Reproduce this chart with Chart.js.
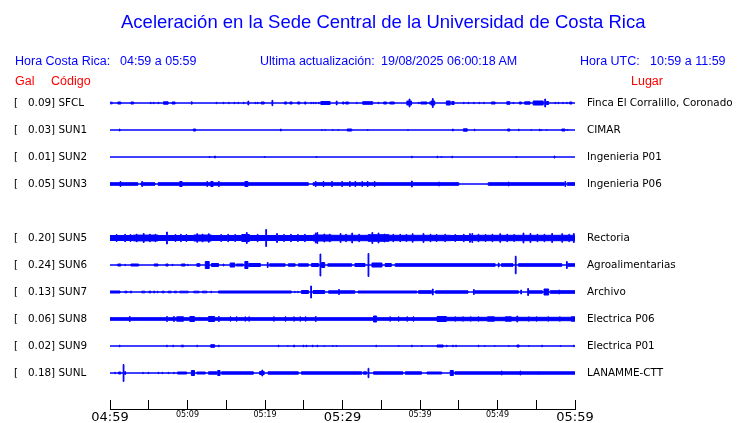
<!DOCTYPE html>
<html><head><meta charset="utf-8">
<script src="https://cdn.jsdelivr.net/npm/chart.js@4.4.0/dist/chart.umd.min.js"></script>
<style>
html,body{margin:0;padding:0;background:#fff;}
#wrap{position:relative;width:740px;height:423px;overflow:hidden;background:#fff;}
.t{position:absolute;white-space:pre;font-family:"Liberation Sans",Arial,sans-serif;line-height:1;}
.b{color:#0000ff;font-size:12.5px;top:55px;}
.r{color:#ff0000;font-size:12.5px;top:75px;}
canvas{position:absolute;left:0;}
</style></head><body>
<div id="wrap">
<canvas id="main" width="740" height="423" style="top:0"></canvas>
<canvas id="axis" width="740" height="23" style="top:400px"></canvas>
<div class="t" style="left:121px;top:13px;font-size:18.5px;color:#0000ff">Aceleración en la Sede Central de la Universidad de Costa Rica</div>
<div class="t b" style="left:15px">Hora Costa Rica:</div>
<div class="t b" style="left:120px">04:59 a 05:59</div>
<div class="t b" style="left:260px">Ultima actualización:</div>
<div class="t b" style="left:381px">19/08/2025 06:00:18 AM</div>
<div class="t b" style="left:580px">Hora UTC:</div>
<div class="t b" style="left:650px">10:59 a 11:59</div>
<div class="t r" style="left:15px">Gal</div>
<div class="t r" style="left:51px">Código</div>
<div class="t r" style="left:631px">Lugar</div>
</div>
<script>
// ---- data (minutes after 04:59; [start, end, halfAmplitude] blocks or [time, halfAmplitude] spikes) ----
const codes  = ['SFCL','SUN1','SUN2','SUN3','SUN4','SUN5','SUN6','SUN7','SUN8','SUN9','SUNL'];
const gal    = [0.09, 0.03, 0.01, 0.05, null, 0.20, 0.24, 0.13, 0.06, 0.02, 0.18];
const places = ['Finca El Corralillo, Coronado','CIMAR','Ingenieria P01','Ingenieria P06','',
                'Rectoria','Agroalimentarias','Archivo','Electrica P06','Electrica P01','LANAMME-CTT'];
const timeTicks  = ['04:59','','05:09','','05:19','','05:29','','05:39','','05:49','','05:59'];
const majorTicks = ['04:59','05:29','05:59'];

const sfcl = [[0,0.3,1.3],[1,1.4,1.5],[2.7,3.05,1.5],[5.2,1.2],[5.6,1.2],[6.2,1.2],[6.9,7.5,1.7],[8,8.4,1.5],[10.5,1.7],[13.7,1.2],[14.6,1.2],[15.3,1.2],[16,1.2],[16.5,1.2],[17.2,1.2],[17.8,2.5],[18.7,1.2],[19,1.2],[19.5,19.9,1.5],[20.9,3.2],[22.5,22.8,1.5],[23.2,23.5,1.5],[24.2,24.5,1.5],[25.1,25.3,1.5],[25.9,1.2],[26.2,1.2],[26.5,1.2],[26.9,1.2],[27.2,28.4,2],[29.2,2.5],[30,30.2,1.5],[30.4,30.8,1.5],[31.8,1.2],[32.6,33.9,1.8],[34.6,1.2],[35.3,35.7,1.5],[36.1,36.7,1.5],[38.3,38.9,2.5],[38.6,4.5],[39.8,1.2],[40.1,40.9,1.5],[41.2,1.5],[41.4,41.9,2.5],[41.6,5],[43.4,43.9,2.5],[44.1,44.4,2],[45.6,1.2],[46.2,1.2],[46.9,1.2],[47.6,1.2],[48.2,1.2],[49.2,49.7,1.5],[51.2,51.6,1.8],[52,1.2],[52.8,53.1,1.5],[53.5,54.2,1.7],[54.6,55.9,2.5],[56.1,4.5],[56.3,56.6,2],[57.4,1.2],[57.8,1.2],[58.4,1.2],[58.9,1.2],[59.3,59.6,1.5]];
const sun1 = [[1.2,1.5],[10.75,11.05,1.5],[22,1.5],[27.3,1],[27.7,1],[28.7,1],[29.4,1],[30.6,31.2,1.5],[33.2,1],[38.4,1],[44.2,1.5],[45.6,46.1,1.7],[47,1.3],[51.3,51.6,1.5],[52.7,1.3],[54.3,1],[55.4,1.3],[55.6,1],[56.3,1],[58.3,58.7,1.5],[59,1]];
const sun2 = [[12.8,1],[13.5,1.5],[19.9,1],[26.6,1],[38.9,1.3],[42.2,1.3],[42.7,1],[44.1,1.3],[52.4,1],[57.3,1.5]];
const sun3 = [[0,3.6,1.8],[1.3,3],[4,5.8,1.8],[4.1,3],[6.2,25.6,1.8],[9,9.3,3],[12.5,3],[13,13.3,3],[14,3],[17.4,17.8,3],[26.2,45,1.8],[26.5,3],[27.5,3],[28.6,3],[29.9,3],[30.9,3],[31.6,3],[32.5,3],[33.2,3],[34.1,3],[38.9,3.5],[42.4,2.5],[48.8,58.6,1.8],[51.4,2.5],[58.7,3],[59,60,1.8]];
const sun4 = null;
const sun5 = [[0,3,3],[3,6.2,3.4],[6.2,10.8,3],[10.8,13.1,3.5],[13.1,17,3],[17,18,4],[18,26.2,3],[26.2,28.6,3.5],[28.6,33.3,3.2],[33.3,36,3.8],[36,44,3.2],[44,47,3],[47,60,3.2],
  [0.8,4],[1.9,4.2],[2.6,4],[3.4,4.3],[4.3,5],[5.1,4.3],[5.8,4.2],[7.3,6.5],[8.4,4],[9.1,4.2],[9.8,4],[11.2,4.8],[11.9,4.3],[12.7,4.8],[14.3,4],[15.2,4.2],[16.1,4],[17.6,6],[19,4.2],[20.1,9],[21.5,5],[22.4,4],[23.3,4.2],[24.2,4],[25.1,4.2],[26.5,5.5],[26.7,6],[27.6,4.5],[28.3,4.3],[29.7,5],[30.4,4.2],[31.2,5.5],[32.1,4.2],[33.8,6],[34.6,5.5],[35.4,4.5],[36.5,4.2],[37.4,4.2],[38.2,4],[39,4.8],[40.4,5],[41.3,4.2],[42.1,4],[43.2,4.2],[44.5,4],[45.6,4.2],[46.4,4.8],[46.7,5],[47.5,4.2],[48.4,4],[49.3,4.2],[50.3,4.8],[51.2,4.2],[52.1,4],[53.3,5.5],[54.2,5],[55.1,4.2],[56,4.2],[57,5],[58.3,4.8],[59.2,4.2],[59.8,5]];
const sun6 = [[1,1.4,1.5],[1.9,1.2],[2.7,3.7,1.5],[5.7,6.2,1.5],[7.2,7.5,1.5],[8,1.2],[9.2,9.7,1.5],[10,1.2],[11.2,11.6,1.8],[12.3,12.8,4],[13.1,14,2],[14.6,1.5],[15.5,16.1,2.5],[16.3,17.2,1.5],[17.4,17.8,4],[17.9,19.4,2],[20.3,3],[20.6,22.6,1.7],[23,23.9,1.7],[24.3,25.6,1.7],[26,26.9,2],[27.1,11.5],[27.3,27.7,3],[28.1,31.2,1.7],[31.6,32.9,2],[33.3,12],[33.8,35.1,2.5],[35.5,36.3,2],[36.8,49.7,1.8],[50.1,2.5],[50.5,52,1.8],[52.3,9.3],[52.7,58.3,1.8],[58.9,4],[59.1,60,1.8]];
const sun7 = [[0,1.3,1.5],[1.9,2.2,1.3],[2.6,2.8,1.3],[4.1,4.5,1.3],[5,5.3,1.3],[5.6,5.8,1.3],[6.1,6.2,1.3],[6.7,7,1.3],[7.5,7.9,1.3],[8.3,8.6,1.3],[9,10.1,1.3],[10.8,11.5,1.3],[11.9,12.5,1.3],[13,13.1,1.3],[14,23.4,1.5],[23.8,1.2],[24.2,1.2],[24.7,25.6,2],[25.9,6.5],[26.2,27.7,2],[28.2,31.6,1.7],[29.5,3],[32,39.6,1.5],[39.8,41.5,1.8],[41.6,3.5],[42,46.2,1.7],[46.9,3],[47.1,52.7,1.7],[53,2.5],[53.9,4],[54,55.8,1.7],[56,56.6,3.5],[56.8,60,1.8],[57.9,2.5]];
const sun8 = [[0,60,1.8],[2.5,3],[7.3,3],[8.2,3],[8.6,9.5,2.7],[10.3,10.9,3],[12.7,13.5,3],[14,3],[15.5,2.7],[16.3,2.7],[17.4,2.7],[17.9,2.7],[21.1,2.7],[22.6,2.7],[23.7,2.7],[24.5,2.7],[25.2,2.7],[26.5,3],[34,34.4,3.5],[36.1,2.7],[37.2,2.7],[38.3,2.7],[39.1,2.7],[42.2,43.4,3],[43.4,60,2.2],[44.5,2.7],[45.5,2.7],[46.5,2.7],[47.5,2.7],[48.7,49.6,2.7],[51,51.8,2.7],[52.5,3.5],[54,2.7],[55,2.7],[56.5,2.7],[58,2.7],[59.5,60,2.7]];
const sun9 = [[1.2,1.3],[7.3,1.3],[8.1,1.3],[9.2,9.5,1.3],[11.2,1.3],[13,13.5,1.8],[14,1.3],[21.7,1.3],[22.9,1],[23.7,1.5],[24.9,1.3],[25.3,1.3],[26.1,1.3],[26.7,1.3],[27.6,1],[28.7,1],[29.2,1],[34.3,1.3],[37.2,1],[38.9,1.3],[40.2,1],[42.2,43,1.5],[43.4,1.3],[44.2,1.3],[44.6,1.3],[47.5,1.3],[48.3,1],[49.6,1],[51.4,1],[52.5,52.8,1.5],[54,1],[55.7,1.3],[58.1,1],[59.8,1.3]];
const sunl = [[0.6,1.2],[1.1,1.4,1.5],[1.7,9],[1.9,2],[4.2,1.2],[4.9,1.2],[6.2,1.2],[6.7,1.2],[7.5,1.2],[8.2,1.2],[8.7,9.9,1.5],[10.5,10.9,3],[11.2,12.3,1.5],[12.7,13.8,1.7],[13.9,14.2,3],[14.4,18.5,1.7],[19.3,19.9,2],[19.6,3.5],[20.4,24.3,1.7],[24.7,32.5,1.7],[32.7,33.1,1.7],[33.3,5.2],[34,37.8,1.7],[38.1,40.2,1.7],[40.9,42.8,1.5],[43.9,44.3,3],[44.5,60,1.7],[50.5,2.5],[52.9,2.5],[55.3,2]];
const traces = [sfcl, sun1, sun2, sun3, sun4, sun5, sun6, sun7, sun8, sun9, sunl];

// ---- drawing ----
const ROW = 27;          // pixel spacing between traces (y units are pixels)
const SPIKE_W = 0.1;     // minutes
const STROKE = 1;        // trace stroke width (px)
const BLUE = '#0000ff';

function envelope(segs) {
  const items = segs.map(s => s.length === 2 ? [s[0], s[0] + SPIKE_W, s[1]] : s);
  const xs = [...new Set([0, 60].concat(...items.map(s => [s[0], Math.min(60, s[1])])))].sort((a, b) => a - b);
  const pts = xs.map((a, k) => {
    const b = k < xs.length - 1 ? xs[k + 1] : a;
    const mid = (a + b) / 2;
    let h = 0;
    for (const s of items) if (mid > s[0] && mid < s[1]) h = Math.max(h, s[2]);
    return { x: a, h: Math.max(0, h - STROKE / 2) };
  });
  if (pts.length > 1) pts[pts.length - 1].h = pts[pts.length - 2].h;
  return pts;
}

const datasets = [];
traces.forEach((segs, i) => {
  if (!segs) return;
  const base = (i + 1) * ROW;
  const env = envelope(segs);
  const common = { borderColor: BLUE, backgroundColor: BLUE, borderWidth: STROKE, pointRadius: 0, stepped: true, tension: 0 };
  datasets.push(Object.assign({ data: env.map(p => ({ x: p.x, y: base - p.h })), fill: false }, common));
  datasets.push(Object.assign({ data: env.map(p => ({ x: p.x, y: base + p.h })), fill: '-1' }, common));
});

const rowTicks = s => { s.ticks = codes.map((c, i) => ({ value: (i + 1) * ROW })); };
const rowIndex = v => Math.round(v / ROW) - 1;
const labelFont = { family: 'DejaVu Sans', size: 10.4 };

new Chart(document.getElementById('main'), {
  type: 'line',
  data: { datasets },
  options: {
    responsive: false, animation: false, events: [],
    layout: { padding: { left: 14, right: 0, top: 76, bottom: 23 } },
    plugins: { legend: { display: false }, tooltip: { enabled: false } },
    scales: {
      x: { type: 'linear', min: 0, max: 60, display: false },
      y: {
        type: 'linear', position: 'left', reverse: true, min: 0, max: ROW * 12,
        grid: { display: false, drawTicks: false }, border: { display: false },
        afterBuildTicks: rowTicks, afterFit: s => { s.width = 96; },
        ticks: { autoSkip: false, crossAlign: 'far', padding: 0, color: '#000', font: labelFont,
          callback: v => { const i = rowIndex(v); return gal[i] == null ? '' : '[   ' + gal[i].toFixed(2) + '] ' + codes[i]; } }
      },
      y2: {
        type: 'linear', position: 'right', reverse: true, min: 0, max: ROW * 12,
        grid: { display: false, drawTicks: false }, border: { display: false },
        afterBuildTicks: rowTicks, afterFit: s => { s.width = 165; },
        ticks: { autoSkip: false, crossAlign: 'near', padding: 12, color: '#000', font: labelFont,
          callback: v => places[rowIndex(v)] || '' }
      }
    }
  }
});

new Chart(document.getElementById('axis'), {
  type: 'line',
  data: { datasets: [] },
  options: {
    responsive: false, animation: false, events: [],
    layout: { padding: { left: 110, right: 165, top: 0, bottom: 0 } },
    plugins: { legend: { display: false }, tooltip: { enabled: false } },
    scales: {
      y: { display: false },
      x: {
        type: 'linear', min: 0, max: 60,
        grid: { color: '#000', lineWidth: 1, drawTicks: false, drawOnChartArea: true },
        border: { display: true, color: '#000', width: 1 },
        afterBuildTicks: s => { s.ticks = timeTicks.map((t, i) => ({ value: i * 5 })); },
        afterFit: s => { s.height = 14; },
        ticks: {
          autoSkip: false, maxRotation: 0, padding: 1, color: '#000',
          font: c => ({ family: 'DejaVu Sans', size: (c.tick && majorTicks.includes(timeTicks[c.tick.value / 5])) ? 13 : 8 }),
          callback: v => timeTicks[Math.round(v / 5)]
        }
      }
    }
  }
});
</script>
</body></html>
